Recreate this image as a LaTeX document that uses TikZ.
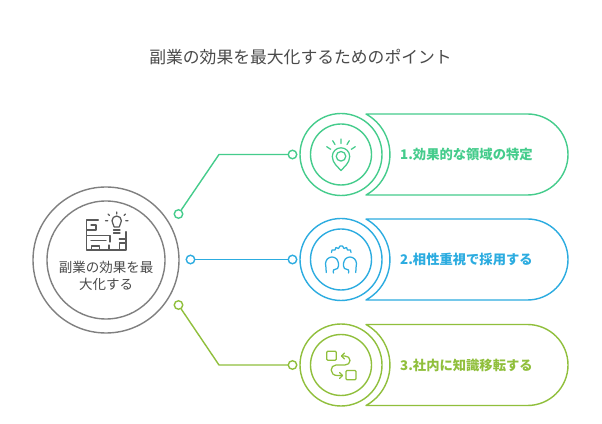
\documentclass[tikz,border=0pt]{standalone}
\usepackage{fontspec}
\setmainfont{Noto Sans CJK JP}
\lineskiplimit=-20pt
\normallineskiplimit=-20pt
\definecolor{cg}{HTML}{45CC8C}
\definecolor{cb}{HTML}{2CACE0}
\definecolor{co}{HTML}{90BF3C}
\definecolor{cy}{HTML}{808080}
\definecolor{ct}{HTML}{4A4A4A}
\tikzset{
 ln/.style={line width=1.4pt,line join=round,line cap=round},
 icon/.style={line width=1.25pt,line join=round,line cap=round},
 dotn/.style={circle,draw,line width=1.4pt,fill=white,minimum size=8.5pt,inner sep=0pt},
 lab/.style={font=\bfseries\fontsize{13.3}{16}\selectfont,anchor=west,inner sep=0pt},
}
% #1 colour, #2 x, #3 y
\newcommand{\itemshape}[3]{%
 \begin{scope}[shift={(#2,#3)},#1,ln]
  \draw (25,40.5) -- (186.5,40.5) arc[start angle=90,end angle=-90,radius=40.5] -- (25,-40.5)
     arc[start angle=-61.2,end angle=61.2,radius=46.2] -- cycle;
  \draw (0,0) circle[radius=41];
  \draw (0,0) circle[radius=30.5];
 \end{scope}}
\begin{document}
\begin{tikzpicture}[x=1pt,y=1pt]
\useasboundingbox[fill=white] (0,0) rectangle (602,423);
\node[text=ct,font=\fontsize{16.8}{20}\selectfont,inner sep=0pt] (title) at (300.5,366) {副業の効果を最大化するためのポイント};
% centre
\draw[cy,ln] (106,163) circle[radius=73];
\draw[cy,ln] (106,163) circle[radius=59];
\node[text=ct,font=\fontsize{13.5}{16.5}\selectfont,align=center,inner sep=0pt] (main) at (106,147) {副業の効果を最\\大化する};
% items
\itemshape{cg}{341}{268.5}
\itemshape{cb}{341}{163.5}
\itemshape{co}{341}{58}
\node[lab,text=cg] (t1) at (400,268.5) {1.効果的な領域の特定};
\node[lab,text=cb] (t2) at (400,163.5) {2.相性重視で採用する};
\node[lab,text=co] (t3) at (400,58) {3.社内に知識移転する};
% connectors
\node[dotn,draw=cg] (a1) at (178.5,209) {};
\node[dotn,draw=cg] (b1) at (292.5,268.5) {};
\coordinate (e1) at (219,268.5);
\draw[ln,cg] (a1) -- (e1) -- (b1);
\node[dotn,draw=cb] (a2) at (190.5,163.5) {};
\node[dotn,draw=cb] (b2) at (292.5,163.5) {};
\draw[ln,cb] (a2) -- (b2);
\node[dotn,draw=co] (a3) at (178.5,118) {};
\node[dotn,draw=co] (b3) at (292.5,58) {};
\coordinate (e3) at (219,58);
\draw[ln,co] (a3) -- (e3) -- (b3);
% icon 1
\begin{scope}[shift={(341,268.5)},cg,icon]
 \draw (0,-16) .. controls (-3,-12.5) and (-8.7,-8.5) .. (-8.7,-2) arc[start angle=180,end angle=0,radius=8.7] .. controls (8.7,-8.5) and (3,-12.5) .. (0,-16) -- cycle;
 \draw (0,-1.8) circle[radius=4.8];
 \draw (0,11) -- (0,15.5) (-6,10) -- (-8.3,13.8) (6,10) -- (8.3,13.8) (-10.3,5.2) -- (-14.3,7.8) (10.3,5.2) -- (14.3,7.8);
\end{scope}
% icon 2
\begin{scope}[shift={(341,163.5)},cb,icon]
 \draw plot[smooth,tension=.6] coordinates {(-14.8,-13) (-15,-8.5) (-15.5,-4) (-13.6,.6) (-9,2.5) (-4.4,.6) (-2.5,-4) (-2.5,-6.5) (-3.5,-9) (-7.5,-10.5) (-7.5,-13.5)};
 \draw plot[smooth,tension=.6] coordinates {(14.8,-13) (15,-8.5) (15.5,-4) (13.6,.6) (9,2.5) (4.4,.6) (2.5,-4) (2.5,-6.5) (3.5,-9) (7.5,-10.5) (7.5,-13.5)};
 \draw (-9.5,7) -- (-9,9.5) -- (-6,9.5) -- (-5,12) -- (-2.5,11) -- (-1,13.5) -- (1.5,13.5) -- (3,11) -- (5.5,12) -- (6.5,9.5) -- (9.5,9.5) -- (10,7);
\end{scope}
% icon 3
\begin{scope}[shift={(341,58)},co,icon]
 \draw[rounded corners=1pt] (-14.3,4.8) rectangle (-4.7,13.8);
 \draw[rounded corners=1pt] (5,-14.8) rectangle (15,-5.5);
 \draw (.5,9) -- (4,9) .. controls (7,9) and (9,7) .. (9,4.5) .. controls (9,2) and (7,0) .. (4,0) -- (-5,0) .. controls (-8,0) and (-9.8,-2.5) .. (-9.8,-5) .. controls (-9.8,-8) and (-7.5,-10.5) .. (-4,-10.5) -- (1.5,-10.5);
 \draw (3.5,12) -- (.5,9) -- (3.5,6) (-1.5,-7.5) -- (1.5,-10.5) -- (-1.5,-13.5);
\end{scope}
% main icon
\begin{scope}[shift={(106,163)},cy!70!black,icon]
 \draw (-7.7,40) -- (-19.3,40) -- (-19.3,10) -- (20,10) -- (20,28.3);
 \draw (-19.3,30) -- (-10,30) -- (-10,35) -- (-15,35);
 \draw (-19.3,24.3) -- (4,24.3) -- (4,18);
 \draw (-15,19.3) -- (0,19.3);
 \draw (-14.3,10) -- (-14.3,14) -- (-6.7,14) -- (-6.7,10);
 \draw (3,10) -- (3,15) (13.3,10) -- (13.3,17) -- (20,17) (13.3,21) -- (20,21);
 \draw (8.2,33) .. controls (8.2,35) and (6,36.5) .. (6,39.3) arc[start angle=180,end angle=0,radius=4.7] .. controls (15.4,36.5) and (13.2,35) .. (13.2,33) -- cycle;
 \draw (7.5,30) -- (14,30) (7.5,27) -- (14,27);
 \draw (10.7,46) -- (10.7,48) (3.5,44.5) -- (2,46) (18,44.5) -- (19.5,46) (1.8,39.3) -- (-.5,39.3) (19.7,39.3) -- (22,39.3);
\end{scope}
\end{tikzpicture}
\end{document}
